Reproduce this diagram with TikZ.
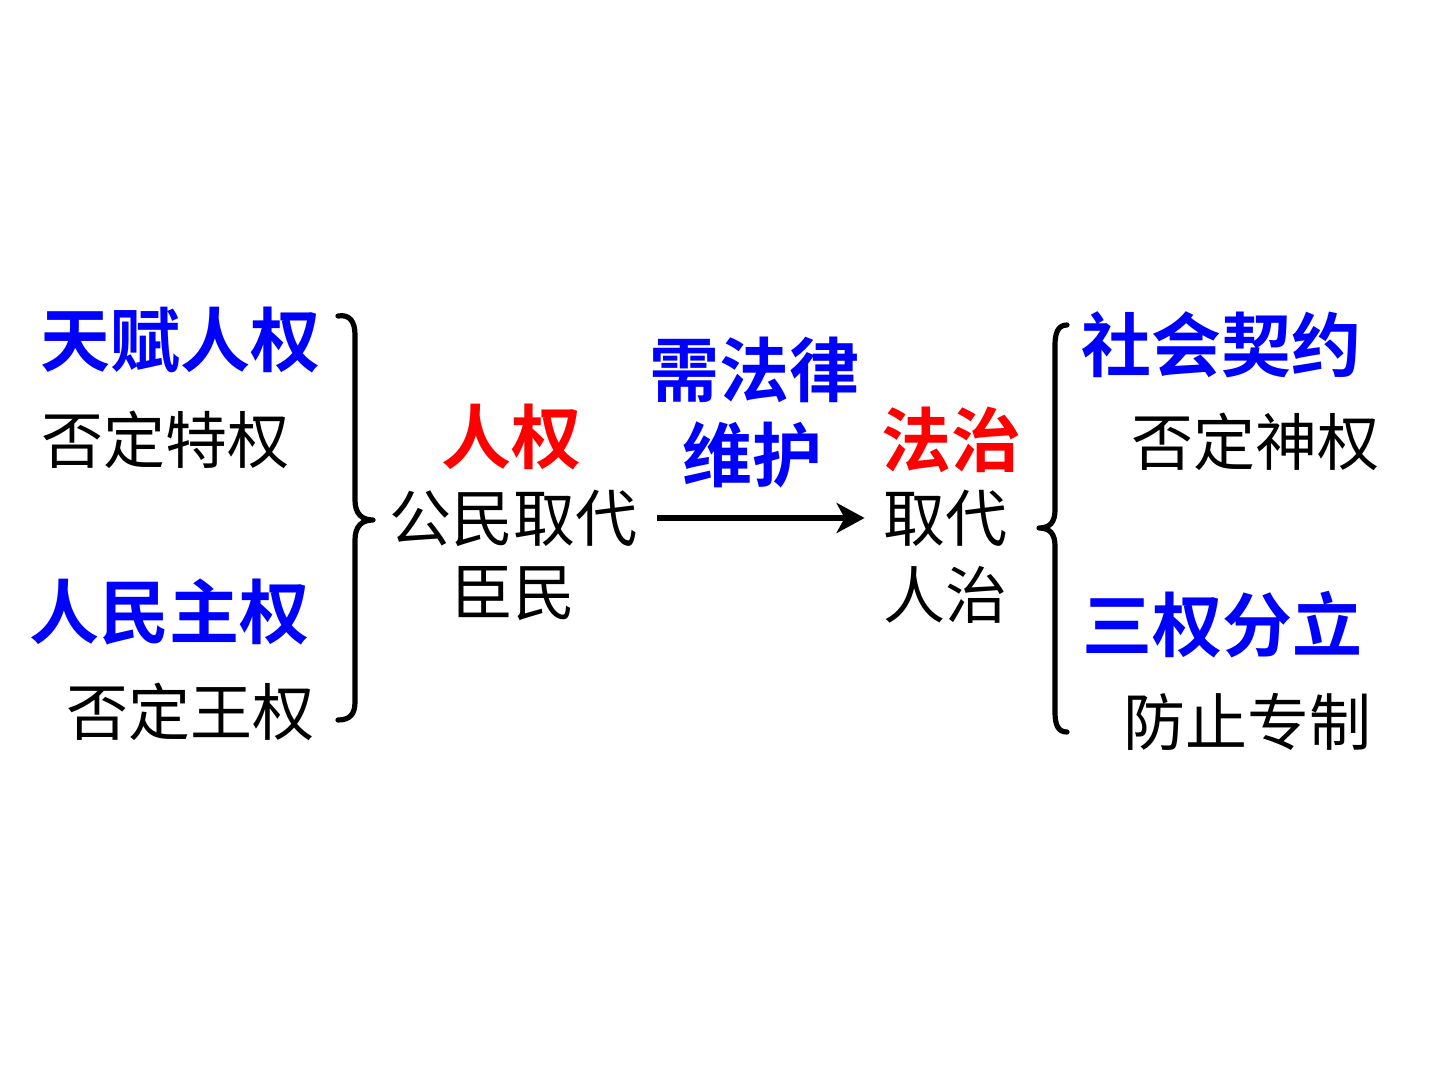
\documentclass[tikz,border=0pt]{standalone}
\usepackage{fontspec}
\newfontfamily\cjk{Noto Sans CJK SC}
\newfontfamily\cjkb{Noto Sans CJK SC Bold}
\usetikzlibrary{arrows.meta}
\definecolor{tblue}{RGB}{0,0,255}
\definecolor{tred}{RGB}{255,0,0}
\tikzset{
  head/.style={inner sep=0pt, font=\cjkb\fontsize{35}{38}\selectfont},
  bluehead/.style={head, text=tblue},
  redhead/.style={head, text=tred},
  body/.style={inner sep=0pt, font=\cjk\fontsize{31}{34}\selectfont, text=black},
  bracepath/.style={line width=2.6pt, line cap=round, line join=round},
  arr/.style={line width=3pt, -{Stealth[length=14pt,width=15pt,inset=4pt]}, shorten <=10pt, shorten >=9pt}
}
\begin{document}
\begin{tikzpicture}[x=0.5pt,y=-0.5pt]
\useasboundingbox (0,0) rectangle (1440,1080);
\fill[white] (0,0) rectangle (1440,1080);
% left column
\node[bluehead] (tfrq) at (180,340) {天赋人权};
\node[body] (fdtq) at (165,440) {否定特权};
\node[bluehead] (rmzq) at (169,612) {人民主权};
\node[body] (fdwq) at (190,712) {否定王权};
% left brace
\draw[bracepath] (338,316) .. controls (350,314) and (355,322) .. (355,335) -- (355,500)
  .. controls (355,514) and (362,520) .. (373,520)
  .. controls (362,520) and (355,526) .. (355,540) -- (355,702)
  .. controls (355,714) and (350,720) .. (338,720);
% middle left
\node[redhead] (rq) at (511,437) {人权};
\node[body] (gm) at (513,518) {公民取代};
\node[body] (cm) at (513,594) {臣民};
% arrow label
\node[bluehead] (xfl) at (754,370) {需法律};
\node[bluehead] (wh) at (752,455) {维护};
% middle right
\node[redhead] (fz) at (951,440) {法治};
\node[body] (qd) at (945,518) {取代};
\node[body] (rz) at (945,595) {人治};
\draw[arr] (gm.east) -- (qd.west);
% right brace
\draw[bracepath] (1067,325) .. controls (1058,325) and (1055,333) .. (1055,345) -- (1055,510)
  .. controls (1055,522) and (1050,528) .. (1039,528)
  .. controls (1050,528) and (1055,534) .. (1055,546) -- (1055,712)
  .. controls (1055,725) and (1058,732) .. (1067,732);
% right column
\node[bluehead] (shqy) at (1221,345) {社会契约};
\node[body] (fdsq) at (1255,442) {否定神权};
\node[bluehead] (sqfl) at (1222,625) {三权分立};
\node[body] (fzzz) at (1247,722) {防止专制};
\end{tikzpicture}
\end{document}
